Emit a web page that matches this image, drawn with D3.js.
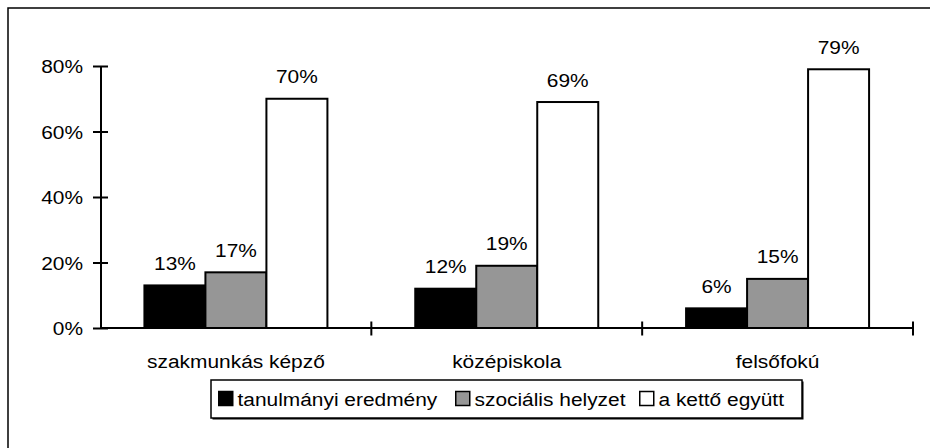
<!DOCTYPE html>
<html>
<head>
<meta charset="utf-8">
<script src="https://cdn.jsdelivr.net/npm/d3@7"></script>
<style>
  body { margin: 0; background: #fff; }
  text { font-family: "Liberation Sans", Arial, sans-serif; font-size: 19px; fill: #000; }
</style>
</head>
<body>
<script>

// chart data
var categories = ["szakmunkás képző", "középiskola", "felsőfokú"];
var seriesNames = ["tanulmányi eredmény", "szociális helyzet", "a kettő együtt"];
var tanulmanyi = [13, 12, 6];
var szocialis = [17, 19, 15];
var egyutt = [70, 69, 79];
var yTicks = [0, 20, 40, 60, 80];

var seriesValues = [tanulmanyi, szocialis, egyutt];
var colors = ["#000000", "#969696", "#ffffff"];

// the original text looks a bit wider than Arial, stretch it a little
var stretch = 1.1;

window.onload = function() {

    var width = 930, height = 448;

    var svg = d3.select("body").append("svg")
        .attr("width", width)
        .attr("height", height);

    // outer frame (only top and left edge show)
    svg.append("path")
        .attr("d", "M8,448 L8,8 L930,8")
        .attr("fill", "none")
        .attr("stroke", "#000")
        .attr("stroke-width", 1.5);

    var x0 = d3.scaleBand()
        .domain(categories)
        .range([100.5, 913]);

    var x1 = d3.scaleBand()
        .domain(seriesNames)
        .range([0, x0.bandwidth()])
        .paddingInner(0)
        .paddingOuter(0.72);

    var y = d3.scaleLinear()
        .domain([0, 80])
        .range([328, 66]);

    // bars
    var rows = categories.map(function(c, i) {
        return seriesNames.map(function(s, j) {
            return {cat: c, series: s, value: seriesValues[j][i], color: colors[j]};
        });
    });

    var groups = svg.selectAll(".group")
        .data(rows)
        .enter()
        .append("g")
        .attr("class", "group")
        .attr("transform", function(d, i) {
            return "translate(" + x0(categories[i]) + ",0)";
        });

    groups.selectAll("rect")
        .data(function(d) { return d; })
        .enter()
        .append("rect")
        .attr("x", function(d) { return x1(d.series); })
        .attr("y", function(d) { return y(d.value); })
        .attr("width", x1.bandwidth())
        .attr("height", function(d) { return y(0) - y(d.value); })
        .attr("fill", function(d) { return d.color; })
        .attr("stroke", "#000")
        .attr("stroke-width", 2);

    // value labels above bars
    groups.selectAll("text")
        .data(function(d) { return d; })
        .enter()
        .append("text")
        .attr("transform", function(d) {
            return "translate(" + (x1(d.series) + x1.bandwidth() / 2) + "," + (y(d.value) - 15.5) + ") scale(" + stretch + ",1)";
        })
        .attr("text-anchor", "middle")
        .text(function(d) { return d.value + "%"; });

    // y axis
    var yAxis = svg.append("g")
        .attr("transform", "translate(100.5,0)")
        .call(d3.axisLeft(y).tickValues(yTicks).tickSizeOuter(0)
            .tickFormat(function(d) { return d + "%"; }));

    yAxis.attr("font-size", null).attr("font-family", null);
    yAxis.select(".domain").attr("stroke-width", 2);
    yAxis.selectAll(".tick line")
        .attr("x1", -7.5)
        .attr("x2", 7.5)
        .attr("stroke-width", 2);
    yAxis.selectAll(".tick text")
        .attr("x", null)
        .attr("dy", null)
        .attr("transform", "translate(-17.5,6.5) scale(" + stretch + ",1)");

    // x axis line with ticks between categories
    svg.append("line")
        .attr("x1", x0.range()[0])
        .attr("x2", x0.range()[1])
        .attr("y1", y(0))
        .attr("y2", y(0))
        .attr("stroke", "#000")
        .attr("stroke-width", 2);

    var boundaries = categories.map(function(c) { return x0(c); }).concat([x0.range()[1]]);
    svg.selectAll(".xtick")
        .data(boundaries.slice(1))
        .enter()
        .append("line")
        .attr("class", "xtick")
        .attr("x1", function(d) { return d; })
        .attr("x2", function(d) { return d; })
        .attr("y1", y(0) - 6.5)
        .attr("y2", y(0) + 7.5)
        .attr("stroke", "#000")
        .attr("stroke-width", 2);

    svg.selectAll(".xlabel")
        .data(categories)
        .enter()
        .append("text")
        .attr("class", "xlabel")
        .attr("transform", function(d) {
            return "translate(" + (x0(d) + x0.bandwidth() / 2) + ",368) scale(" + stretch + ",1)";
        })
        .attr("text-anchor", "middle")
        .text(function(d) { return d; });

    // legend
    var legend = svg.append("g");
    legend.append("rect")
        .attr("x", 212.5)
        .attr("y", 381.5)
        .attr("width", 591)
        .attr("height", 38)
        .attr("fill", "#000");
    legend.append("rect")
        .attr("x", 211)
        .attr("y", 380)
        .attr("width", 591)
        .attr("height", 38)
        .attr("fill", "#fff")
        .attr("stroke", "#000")
        .attr("stroke-width", 1.5);

    var legendX = [218, 455, 639];
    var items = legend.selectAll(".legend")
        .data(seriesNames)
        .enter()
        .append("g")
        .attr("class", "legend")
        .attr("transform", function(d, i) {
            return "translate(" + legendX[i] + ",0)";
        });

    items.append("rect")
        .attr("x", 0.75)
        .attr("y", 391.5)
        .attr("width", 14)
        .attr("height", 14)
        .attr("fill", function(d, i) { return colors[i]; })
        .attr("stroke", "#000")
        .attr("stroke-width", 1.5);

    items.append("text")
        .attr("transform", "translate(19.5,406) scale(" + stretch + ",1)")
        .text(function(d) { return d; });
};

</script>
</body>
</html>
